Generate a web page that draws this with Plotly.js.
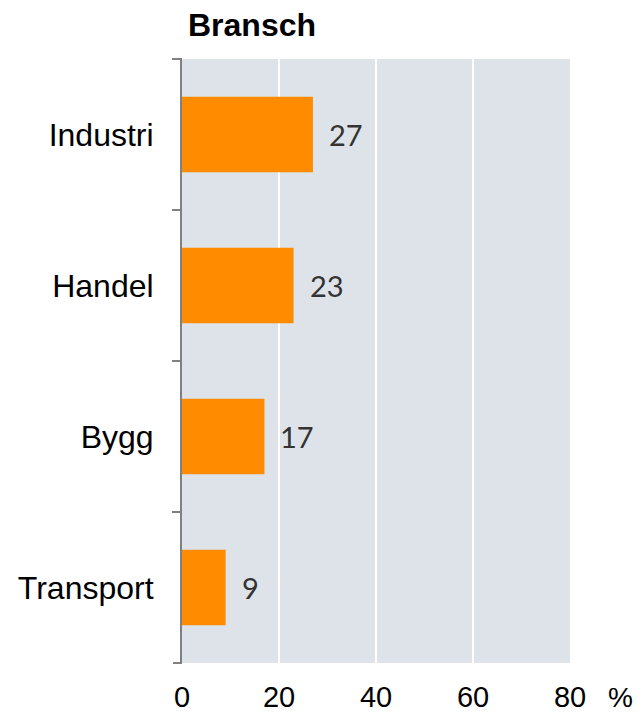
<!DOCTYPE html>
<html><head><meta charset="utf-8">
<script src="https://cdn.plot.ly/plotly-3.0.1.min.js"></script>
<style>html,body{margin:0;padding:0;background:#fff}#chart{width:641px;height:712px}</style>
</head><body><div id="chart"></div>
<script>
const categories = ["Industri", "Handel", "Bygg", "Transport"];
const values = [27, 23, 17, 9];
const xTicks = [0, 20, 40, 60, 80];
const titleText = "Bransch";
const unitLabel = "%";

const trace = {
  type: 'bar', orientation: 'h',
  y: categories, x: values,
  width: 0.5,
  marker: {color: '#FF8C00', line: {width: 0}},
  hoverinfo: 'none'
};
const annotations = values.map((v, i) => ({
  x: v, y: categories[i], xref: 'x', yref: 'y',
  text: String(v), showarrow: false, xanchor: 'left', yanchor: 'middle',
  xshift: 14,
  font: {family: 'Lato, sans-serif', size: 29, color: '#333333'}
}));
annotations.push({
  x: 1, y: 0, xref: 'paper', yref: 'paper', xanchor: 'left', yanchor: 'top',
  text: unitLabel, showarrow: false, xshift: 36, yshift: -17,
  font: {family: 'Liberation Sans, Arial, sans-serif', size: 28, color: '#000'}
});
const tickFrac = 9 / 388;
const layout = {
  width: 641, height: 712,
  margin: {l: 182, r: 71, t: 59, b: 49},
  paper_bgcolor: '#ffffff', plot_bgcolor: '#DDE3E9',
  showlegend: false,
  title: {text: '<b>' + titleText + '</b>', x: 6/388, xanchor: 'left', xref: 'paper',
    y: 1 - 25/712, yanchor: 'middle',
    font: {family: 'Liberation Sans, Arial, sans-serif', size: 32, color: '#000'}},
  xaxis: {range: [0, 80], tickvals: xTicks, ticktext: xTicks.map(String),
    showgrid: true, gridcolor: '#ffffff', gridwidth: 2,
    zeroline: false, showline: false, ticks: '',
    ticklabelstandoff: 14,
    tickfont: {family: 'Liberation Sans, Arial, sans-serif', size: 29, color: '#000'},
    fixedrange: true},
  yaxis: {categoryorder: 'array', categoryarray: categories, range: [3.5, -0.5],
    showgrid: false, zeroline: false, showline: true, linecolor: '#808080', linewidth: 2,
    ticks: 'outside', tickson: 'boundaries', ticklen: 8, tickwidth: 2, tickcolor: '#808080',
    ticklabelstandoff: 20,
    tickfont: {family: 'Liberation Sans, Arial, sans-serif', size: 32, color: '#000'},
    fixedrange: true},
  shapes: [0, 1].map(yy => ({type: 'line', xref: 'paper', yref: 'paper',
    x0: -tickFrac, x1: 0, y0: yy, y1: yy, line: {color: '#808080', width: 2}})),
  annotations: annotations
};
Plotly.newPlot('chart', [trace], layout, {displayModeBar: false, staticPlot: true});
</script></body></html>
